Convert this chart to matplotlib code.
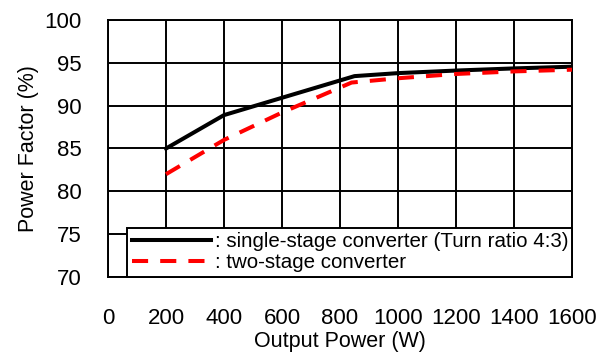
import matplotlib
matplotlib.use("Agg")
from matplotlib import pyplot as plt

plt.rcParams["font.family"] = ["Liberation Sans", "DejaVu Sans"]

# ------------------------------------------------------------------ data
single_x = [200, 400, 850, 1000, 1200, 1400, 1600]
single_pf = [85.0, 88.9, 93.45, 93.8, 94.1, 94.35, 94.55]

two_x = [200, 400, 600, 840, 1000, 1200, 1400, 1600]
two_pf = [82.0, 86.0, 89.2, 92.7, 93.2, 93.7, 94.0, 94.2]

x_ticks = list(range(0, 1601, 200))
y_ticks = list(range(70, 101, 5))
labels = [": single-stage converter (Turn ratio 4:3)", ": two-stage converter"]

# ------------------------------------------------------------------ figure
fig = plt.figure(figsize=(6.13, 3.58), dpi=100)
ax = fig.add_axes([0.1762, 0.2263, 0.9331 - 0.1762, 0.9441 - 0.2263])

ax.plot(single_x, single_pf, color="black", lw=2.9, label=labels[0], zorder=3)
ax.plot(two_x, two_pf, color="#ff0000", lw=2.9, ls=(0, (4, 3)),
        label=labels[1], zorder=3)

ax.set_xlim(0, 1600)
ax.set_ylim(70, 100)
ax.set_xticks(x_ticks)
ax.set_yticks(y_ticks)
ax.grid(True, color="black", lw=1.4, zorder=0)
ax.set_axisbelow(True)
for s in ax.spines.values():
    s.set_linewidth(1.4)
    s.set_color("black")
ax.tick_params(axis="both", length=0, labelsize=16)
ax.tick_params(axis="x", pad=22)
ax.tick_params(axis="y", pad=19)

ax.set_xlabel("Output Power (W)", fontsize=15.5, labelpad=2)
ax.set_ylabel("Power Factor (%)", fontsize=15.5, labelpad=4)

# legend box sits in the lower right corner, flush with the axes frame
leg = ax.legend(loc="lower left", bbox_to_anchor=(0.041, 0.0, 0.959, 0.19),
                mode="expand", borderaxespad=0, fontsize=14.8,
                handlelength=3.85, handletextpad=0.2, labelspacing=0.1,
                borderpad=0.22, fancybox=False, framealpha=1,
                edgecolor="black")
leg.get_frame().set_linewidth(1.4)
leg.set_zorder(5)

fig.savefig("out.png", dpi=100)
